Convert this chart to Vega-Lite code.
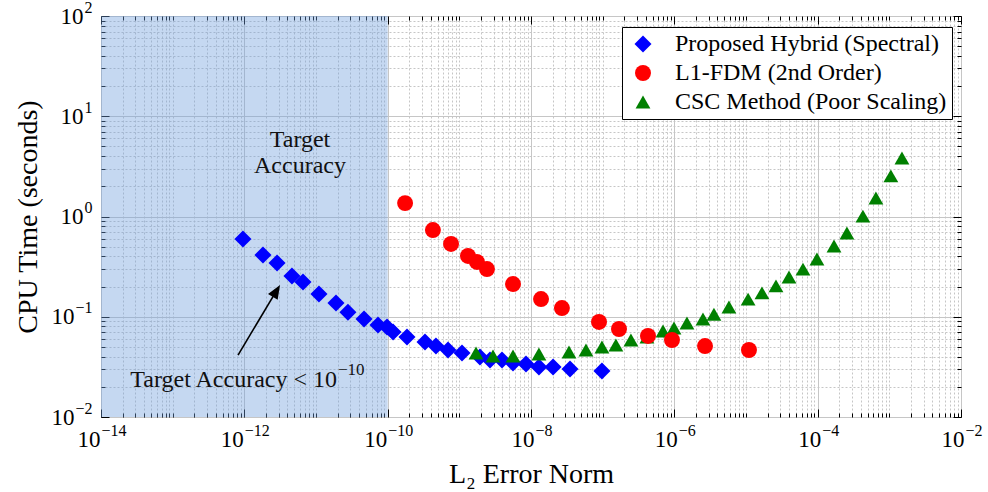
{
  "$schema": "https://vega.github.io/schema/vega-lite/v6.json",
  "width": 860,
  "height": 401,
  "autosize": {"type": "none"},
  "padding": {"left": 101, "top": 16, "right": 27, "bottom": 75},
  "background": "white",
  "config": {
    "view": {"stroke": "#000000", "strokeWidth": 1},
    "font": "Liberation Serif",
    "axis": {"labelFont": "Liberation Serif", "titleFont": "Liberation Serif", "titleFontWeight": "normal", "titleColor": "#000000", "labelColor": "#000000"},
    "text": {"font": "Liberation Serif"}
  },
  "datasets": {
    "shade": [{"x1": 1e-14, "x2": 1e-10, "y1": 0.01, "y2": 100}],
    "points": [
      {"method": "Proposed Hybrid (Spectral)", "err": 9.57e-13, "time": 0.597},
      {"method": "Proposed Hybrid (Spectral)", "err": 1.82e-12, "time": 0.413},
      {"method": "Proposed Hybrid (Spectral)", "err": 2.86e-12, "time": 0.344},
      {"method": "Proposed Hybrid (Spectral)", "err": 4.62e-12, "time": 0.255},
      {"method": "Proposed Hybrid (Spectral)", "err": 6.58e-12, "time": 0.222},
      {"method": "Proposed Hybrid (Spectral)", "err": 1.10e-11, "time": 0.169},
      {"method": "Proposed Hybrid (Spectral)", "err": 1.90e-11, "time": 0.137},
      {"method": "Proposed Hybrid (Spectral)", "err": 2.79e-11, "time": 0.111},
      {"method": "Proposed Hybrid (Spectral)", "err": 4.68e-11, "time": 0.095},
      {"method": "Proposed Hybrid (Spectral)", "err": 7.33e-11, "time": 0.0828},
      {"method": "Proposed Hybrid (Spectral)", "err": 9.8e-11, "time": 0.0791},
      {"method": "Proposed Hybrid (Spectral)", "err": 1.19e-10, "time": 0.0705},
      {"method": "Proposed Hybrid (Spectral)", "err": 1.86e-10, "time": 0.0628},
      {"method": "Proposed Hybrid (Spectral)", "err": 3.32e-10, "time": 0.056},
      {"method": "Proposed Hybrid (Spectral)", "err": 4.72e-10, "time": 0.051},
      {"method": "Proposed Hybrid (Spectral)", "err": 6.95e-10, "time": 0.0466},
      {"method": "Proposed Hybrid (Spectral)", "err": 1.09e-9, "time": 0.0435},
      {"method": "Proposed Hybrid (Spectral)", "err": 1.94e-9, "time": 0.0396},
      {"method": "Proposed Hybrid (Spectral)", "err": 2.68e-9, "time": 0.037},
      {"method": "Proposed Hybrid (Spectral)", "err": 3.94e-9, "time": 0.037},
      {"method": "Proposed Hybrid (Spectral)", "err": 5.61e-9, "time": 0.0346},
      {"method": "Proposed Hybrid (Spectral)", "err": 8.51e-9, "time": 0.0338},
      {"method": "Proposed Hybrid (Spectral)", "err": 1.29e-8, "time": 0.0316},
      {"method": "Proposed Hybrid (Spectral)", "err": 2.03e-8, "time": 0.0316},
      {"method": "Proposed Hybrid (Spectral)", "err": 3.50e-8, "time": 0.0301},
      {"method": "Proposed Hybrid (Spectral)", "err": 9.77e-8, "time": 0.0288},
      {"method": "CSC Method (Poor Scaling)", "err": 1.71e-9, "time": 0.0435},
      {"method": "CSC Method (Poor Scaling)", "err": 2.95e-9, "time": 0.0406},
      {"method": "CSC Method (Poor Scaling)", "err": 5.61e-9, "time": 0.0406},
      {"method": "CSC Method (Poor Scaling)", "err": 1.29e-8, "time": 0.0425},
      {"method": "CSC Method (Poor Scaling)", "err": 3.39e-8, "time": 0.0445},
      {"method": "CSC Method (Poor Scaling)", "err": 5.85e-8, "time": 0.0466},
      {"method": "CSC Method (Poor Scaling)", "err": 9.77e-8, "time": 0.0499},
      {"method": "CSC Method (Poor Scaling)", "err": 1.53e-7, "time": 0.0523},
      {"method": "CSC Method (Poor Scaling)", "err": 2.48e-7, "time": 0.0586},
      {"method": "CSC Method (Poor Scaling)", "err": 4.15e-7, "time": 0.0628},
      {"method": "CSC Method (Poor Scaling)", "err": 6.95e-7, "time": 0.0721},
      {"method": "CSC Method (Poor Scaling)", "err": 9.89e-7, "time": 0.0773},
      {"method": "CSC Method (Poor Scaling)", "err": 1.50e-6, "time": 0.0867},
      {"method": "CSC Method (Poor Scaling)", "err": 2.51e-6, "time": 0.095},
      {"method": "CSC Method (Poor Scaling)", "err": 3.57e-6, "time": 0.106},
      {"method": "CSC Method (Poor Scaling)", "err": 5.78e-6, "time": 0.125},
      {"method": "CSC Method (Poor Scaling)", "err": 1.07e-5, "time": 0.150},
      {"method": "CSC Method (Poor Scaling)", "err": 1.67e-5, "time": 0.173},
      {"method": "CSC Method (Poor Scaling)", "err": 2.62e-5, "time": 0.203},
      {"method": "CSC Method (Poor Scaling)", "err": 3.98e-5, "time": 0.249},
      {"method": "CSC Method (Poor Scaling)", "err": 6.24e-5, "time": 0.299},
      {"method": "CSC Method (Poor Scaling)", "err": 9.77e-5, "time": 0.377},
      {"method": "CSC Method (Poor Scaling)", "err": 1.69e-4, "time": 0.508},
      {"method": "CSC Method (Poor Scaling)", "err": 2.56e-4, "time": 0.684},
      {"method": "CSC Method (Poor Scaling)", "err": 4.28e-4, "time": 1.01},
      {"method": "CSC Method (Poor Scaling)", "err": 6.50e-4, "time": 1.53},
      {"method": "CSC Method (Poor Scaling)", "err": 1.05e-3, "time": 2.54},
      {"method": "CSC Method (Poor Scaling)", "err": 1.50e-3, "time": 3.83},
      {"method": "L1-FDM (2nd Order)", "err": 1.75e-10, "time": 1.36},
      {"method": "L1-FDM (2nd Order)", "err": 4.28e-10, "time": 0.733},
      {"method": "L1-FDM (2nd Order)", "err": 7.66e-10, "time": 0.532},
      {"method": "L1-FDM (2nd Order)", "err": 1.32e-9, "time": 0.404},
      {"method": "L1-FDM (2nd Order)", "err": 1.76e-9, "time": 0.352},
      {"method": "L1-FDM (2nd Order)", "err": 2.43e-9, "time": 0.299},
      {"method": "L1-FDM (2nd Order)", "err": 5.61e-9, "time": 0.212},
      {"method": "L1-FDM (2nd Order)", "err": 1.38e-8, "time": 0.150},
      {"method": "L1-FDM (2nd Order)", "err": 2.70e-8, "time": 0.122},
      {"method": "L1-FDM (2nd Order)", "err": 8.89e-8, "time": 0.0887},
      {"method": "L1-FDM (2nd Order)", "err": 1.69e-7, "time": 0.0755},
      {"method": "L1-FDM (2nd Order)", "err": 4.29e-7, "time": 0.0643},
      {"method": "L1-FDM (2nd Order)", "err": 9.27e-7, "time": 0.0586},
      {"method": "L1-FDM (2nd Order)", "err": 2.68e-6, "time": 0.051},
      {"method": "L1-FDM (2nd Order)", "err": 1.10e-5, "time": 0.0466}
    ],
    "note1": [{"x": 5.98e-12, "y": 5.8, "label": "Target\nAccuracy"}],
    "note2": [{"x": 1.963e-11, "y": 0.0199, "label": "Target Accuracy < 10"}],
    "note2exp": [{"x": 1.963e-11, "y": 0.0199, "label": "−10"}],
    "arrowLine": [{"x": 8.17e-13, "y": 0.0415, "x2": 2.75e-12, "y2": 0.177}],
    "arrowHead": [{"x": 3.15e-12, "y": 0.2075}]
  },
  "layer": [
    {
      "data": {"name": "shade"},
      "mark": {"type": "rect", "fill": "#6f9ddc", "opacity": 0.4},
      "encoding": {
        "x": {
          "field": "x1", "type": "quantitative",
          "scale": {"type": "log", "domain": [1e-14, 1e-2], "nice": false},
          "axis": {
            "orient": "bottom",
            "values": [1e-14,2e-14,3e-14,4e-14,5e-14,6e-14,7e-14,8e-14,9e-14,1e-13,2e-13,3e-13,4e-13,5e-13,6e-13,7e-13,8e-13,9e-13,1e-12,2e-12,3e-12,4e-12,5e-12,6e-12,7e-12,8e-12,9e-12,1e-11,2e-11,3e-11,4e-11,5e-11,6e-11,7e-11,8e-11,9e-11,1e-10,2e-10,3e-10,4e-10,5e-10,6e-10,7e-10,8e-10,9e-10,1e-9,2e-9,3e-9,4e-9,5e-9,6e-9,7e-9,8e-9,9e-9,1e-8,2e-8,3e-8,4e-8,5e-8,6e-8,7e-8,8e-8,9e-8,1e-7,2e-7,3e-7,4e-7,5e-7,6e-7,7e-7,8e-7,9e-7,1e-6,2e-6,3e-6,4e-6,5e-6,6e-6,7e-6,8e-6,9e-6,1e-5,2e-5,3e-5,4e-5,5e-5,6e-5,7e-5,8e-5,9e-5,1e-4,2e-4,3e-4,4e-4,5e-4,6e-4,7e-4,8e-4,9e-4,1e-3,2e-3,3e-3,4e-3,5e-3,6e-3,7e-3,8e-3,9e-3,1e-2],
            "grid": true,
            "gridColor": "#c6c6c6",
            "gridDash": {"condition": {"test": "abs(log(datum.value)/LN10 - round(log(datum.value)/LN10)) < 1e-6 && round(log(datum.value)/LN10) % 2 == 0", "value": []}, "value": [2, 2]},
            "gridWidth": 1,
            "domain": false,
            "ticks": true,
            "tickColor": "#000000",
            "tickWidth": 1,
            "tickSize": {"condition": {"test": "abs(log(datum.value)/LN10 - round(log(datum.value)/LN10)) < 1e-6 && round(log(datum.value)/LN10) % 2 == 0", "value": -8}, "value": -4},
            "labelExpr": "(abs(log(datum.value)/LN10 - round(log(datum.value)/LN10)) < 1e-6 && round(log(datum.value)/LN10) % 2 == 0) ? '10' : ''",
            "labelFontSize": 23,
            "labelPadding": 19,
            "labelAlign": "right",
            "labelOffset": {"condition": {"test": "round(log(datum.value)/LN10) > -9.5", "value": 3}, "value": -1},
            "labelOverlap": false,
            "labelFlush": false,
            "labelBound": false,
            "title": "L₂ Error Norm",
            "titleFontSize": 28,
            "titleBaseline": "alphabetic",
            "titleY": 65
          }
        },
        "x2": {"field": "x2"},
        "y": {
          "field": "y1", "type": "quantitative",
          "scale": {"type": "log", "domain": [0.01, 100], "nice": false},
          "axis": {
            "orient": "left",
            "values": [0.01,0.02,0.03,0.04,0.05,0.06,0.07,0.08,0.09,0.1,0.2,0.3,0.4,0.5,0.6,0.7,0.8,0.9,1,2,3,4,5,6,7,8,9,10,20,30,40,50,60,70,80,90,100],
            "grid": true,
            "gridColor": "#c6c6c6",
            "gridDash": {"condition": {"test": "abs(log(datum.value)/LN10 - round(log(datum.value)/LN10)) < 1e-6", "value": []}, "value": [2, 2]},
            "gridWidth": 1,
            "domain": false,
            "ticks": true,
            "tickColor": "#000000",
            "tickWidth": 1,
            "tickSize": {"condition": {"test": "abs(log(datum.value)/LN10 - round(log(datum.value)/LN10)) < 1e-6", "value": -8}, "value": -4},
            "labelExpr": "(abs(log(datum.value)/LN10 - round(log(datum.value)/LN10)) < 1e-6) ? '10' : ''",
            "labelFontSize": 23,
            "labelAlign": "right",
            "labelBaseline": "middle",
            "labelPadding": {"condition": {"test": "round(log(datum.value)/LN10) < -0.5", "value": 35}, "value": 26},
            "labelOverlap": false,
            "labelFlush": false,
            "labelBound": false,
            "title": "CPU Time (seconds)",
            "titleFontSize": 28,
            "titleBaseline": "middle",
            "titleX": -73
          }
        },
        "y2": {"field": "y2"}
      }
    },
    {
      "data": {"name": "points"},
      "mark": {"type": "point", "filled": true, "opacity": 1, "strokeWidth": 0},
      "encoding": {
        "x": {
          "field": "err", "type": "quantitative",
          "scale": {"type": "log", "domain": [1e-14, 1e-2], "nice": false},
          "axis": {
            "orient": "top",
            "values": [1e-14,2e-14,3e-14,4e-14,5e-14,6e-14,7e-14,8e-14,9e-14,1e-13,2e-13,3e-13,4e-13,5e-13,6e-13,7e-13,8e-13,9e-13,1e-12,2e-12,3e-12,4e-12,5e-12,6e-12,7e-12,8e-12,9e-12,1e-11,2e-11,3e-11,4e-11,5e-11,6e-11,7e-11,8e-11,9e-11,1e-10,2e-10,3e-10,4e-10,5e-10,6e-10,7e-10,8e-10,9e-10,1e-9,2e-9,3e-9,4e-9,5e-9,6e-9,7e-9,8e-9,9e-9,1e-8,2e-8,3e-8,4e-8,5e-8,6e-8,7e-8,8e-8,9e-8,1e-7,2e-7,3e-7,4e-7,5e-7,6e-7,7e-7,8e-7,9e-7,1e-6,2e-6,3e-6,4e-6,5e-6,6e-6,7e-6,8e-6,9e-6,1e-5,2e-5,3e-5,4e-5,5e-5,6e-5,7e-5,8e-5,9e-5,1e-4,2e-4,3e-4,4e-4,5e-4,6e-4,7e-4,8e-4,9e-4,1e-3,2e-3,3e-3,4e-3,5e-3,6e-3,7e-3,8e-3,9e-3,1e-2],
            "grid": false,
            "domain": false,
            "labels": false,
            "title": null,
            "ticks": true,
            "tickColor": "#000000",
            "tickWidth": 1,
            "tickSize": {"condition": {"test": "abs(log(datum.value)/LN10 - round(log(datum.value)/LN10)) < 1e-6 && round(log(datum.value)/LN10) % 2 == 0", "value": -8}, "value": -4}
          }
        },
        "y": {
          "field": "time", "type": "quantitative",
          "scale": {"type": "log", "domain": [0.01, 100], "nice": false},
          "axis": {
            "orient": "right",
            "values": [0.01,0.02,0.03,0.04,0.05,0.06,0.07,0.08,0.09,0.1,0.2,0.3,0.4,0.5,0.6,0.7,0.8,0.9,1,2,3,4,5,6,7,8,9,10,20,30,40,50,60,70,80,90,100],
            "grid": false,
            "domain": false,
            "labels": false,
            "title": null,
            "ticks": true,
            "tickColor": "#000000",
            "tickWidth": 1,
            "tickSize": {"condition": {"test": "abs(log(datum.value)/LN10 - round(log(datum.value)/LN10)) < 1e-6", "value": -8}, "value": -4}
          }
        },
        "color": {
          "field": "method", "type": "nominal",
          "scale": {"domain": ["Proposed Hybrid (Spectral)", "L1-FDM (2nd Order)", "CSC Method (Poor Scaling)"], "range": ["#0000ff", "#ff0000", "#008000"]},
          "legend": {"orient": "none", "legendX": 521, "legendY": 11, "title": null, "strokeColor": "#000000", "fillColor": "#ffffff", "padding": 5, "labelFontSize": 24, "labelFont": "Liberation Serif", "labelColor": "#000000", "symbolSize": 240, "rowPadding": 5, "symbolOffset": 4, "labelOffset": 20, "symbolStrokeWidth": 0, "labelLimit": 400, "cornerRadius": 0}
        },
        "shape": {
          "field": "method", "type": "nominal",
          "scale": {"domain": ["Proposed Hybrid (Spectral)", "L1-FDM (2nd Order)", "CSC Method (Poor Scaling)"], "range": ["diamond", "circle", "triangle-up"]},
          "legend": {"orient": "none", "legendX": 521, "legendY": 11, "title": null, "strokeColor": "#000000", "fillColor": "#ffffff", "padding": 5, "labelFontSize": 24, "labelFont": "Liberation Serif", "labelColor": "#000000", "symbolSize": 240, "rowPadding": 5, "symbolOffset": 4, "labelOffset": 20, "symbolStrokeWidth": 0, "labelLimit": 400, "cornerRadius": 0}
        },
        "size": {
          "field": "method", "type": "nominal",
          "scale": {"domain": ["Proposed Hybrid (Spectral)", "L1-FDM (2nd Order)", "CSC Method (Poor Scaling)"], "range": [290, 220, 320]},
          "legend": null
        }
      }
    },
    {
      "data": {"name": "arrowLine"},
      "mark": {"type": "rule", "color": "#000000", "strokeWidth": 1.6},
      "encoding": {
        "x": {
          "field": "x", "type": "quantitative",
          "scale": {"type": "log", "domain": [1e-14, 1e-2], "nice": false},
          "axis": {
            "orient": "bottom",
            "values": [1e-14,1e-12,1e-10,1e-8,1e-6,1e-4,1e-2],
            "grid": false,
            "domain": false,
            "ticks": true,
            "tickOpacity": 0,
            "tickSize": -8,
            "labelExpr": "'−' + toString(abs(round(log(datum.value)/LN10)))",
            "labelFontSize": 16,
            "labelPadding": 13,
            "labelAlign": "left",
            "labelOffset": {"condition": {"test": "round(log(datum.value)/LN10) > -9.5", "value": 4}, "value": 0},
            "labelOverlap": false,
            "labelFlush": false,
            "labelBound": false,
            "title": null
          }
        },
        "y": {
          "field": "y", "type": "quantitative",
          "scale": {"type": "log", "domain": [0.01, 100], "nice": false},
          "axis": {
            "orient": "left",
            "values": [0.01,0.1,1,10,100],
            "grid": false,
            "domain": false,
            "ticks": true,
            "tickOpacity": 0,
            "tickSize": -8,
            "labelExpr": "round(log(datum.value)/LN10) < 0 ? '−' + toString(abs(round(log(datum.value)/LN10))) : toString(round(log(datum.value)/LN10))",
            "labelFontSize": 16,
            "labelPadding": 17,
            "labelAlign": "right",
            "labelBaseline": "middle",
            "labelOffset": -9,
            "labelOverlap": false,
            "labelFlush": false,
            "labelBound": false,
            "title": null
          }
        },
        "x2": {"field": "x2"},
        "y2": {"field": "y2"}
      }
    },
    {
      "data": {"name": "arrowHead"},
      "mark": {"type": "point", "shape": "M0,0L0.4,1L-0.4,1Z", "filled": true, "color": "#000000", "opacity": 1, "size": 784, "angle": 31, "strokeWidth": 0},
      "encoding": {
        "x": {"field": "x", "type": "quantitative", "scale": {"type": "log", "domain": [1e-14, 1e-2], "nice": false}, "axis": null},
        "y": {"field": "y", "type": "quantitative", "scale": {"type": "log", "domain": [0.01, 100], "nice": false}, "axis": null}
      }
    },
    {
      "data": {"name": "note1"},
      "mark": {"type": "text", "font": "Liberation Serif", "fontSize": 24, "lineBreak": "\n", "lineHeight": 26, "align": "center", "baseline": "middle", "color": "#111111"},
      "encoding": {
        "x": {"field": "x", "type": "quantitative", "scale": {"type": "log", "domain": [1e-14, 1e-2], "nice": false}, "axis": null},
        "y": {"field": "y", "type": "quantitative", "scale": {"type": "log", "domain": [0.01, 100], "nice": false}, "axis": null},
        "text": {"field": "label"}
      }
    },
    {
      "data": {"name": "note2"},
      "mark": {"type": "text", "font": "Liberation Serif", "fontSize": 24, "align": "right", "baseline": "alphabetic", "color": "#111111"},
      "encoding": {
        "x": {"field": "x", "type": "quantitative", "scale": {"type": "log", "domain": [1e-14, 1e-2], "nice": false}, "axis": null},
        "y": {"field": "y", "type": "quantitative", "scale": {"type": "log", "domain": [0.01, 100], "nice": false}, "axis": null},
        "text": {"field": "label"}
      }
    },
    {
      "data": {"name": "note2exp"},
      "mark": {"type": "text", "font": "Liberation Serif", "fontSize": 17, "align": "left", "baseline": "alphabetic", "dx": 1, "dy": -12, "color": "#111111"},
      "encoding": {
        "x": {"field": "x", "type": "quantitative", "scale": {"type": "log", "domain": [1e-14, 1e-2], "nice": false}, "axis": null},
        "y": {"field": "y", "type": "quantitative", "scale": {"type": "log", "domain": [0.01, 100], "nice": false}, "axis": null},
        "text": {"field": "label"}
      }
    }
  ],
  "resolve": {"axis": {"x": "independent", "y": "independent"}}
}
